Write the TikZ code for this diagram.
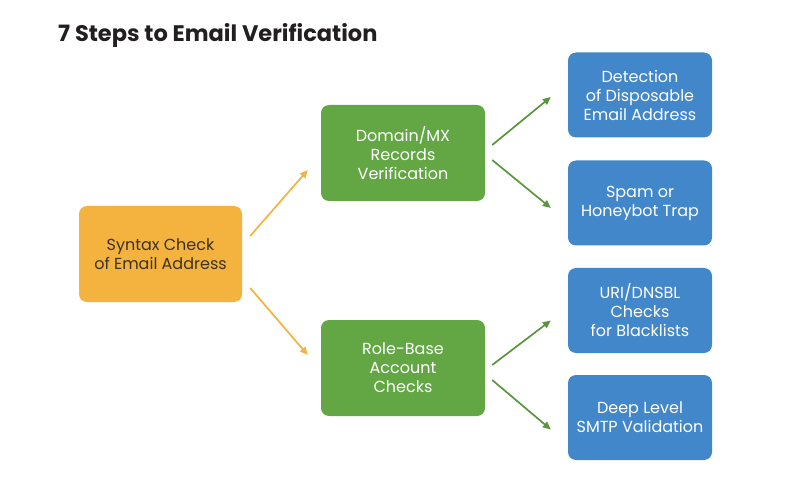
\documentclass[tikz,border=0pt]{standalone}
\usepackage{fontspec}
\setmainfont{Poppins}
\usepackage{tikz}
\usetikzlibrary{arrows.meta}

\definecolor{syntaxorange}{HTML}{F4B23F}
\definecolor{checkgreen}{HTML}{62A744}
\definecolor{stepblue}{HTML}{4287C9}
\definecolor{titleink}{HTML}{231F20}
\definecolor{darkink}{HTML}{3B3224}

\tikzset{
  box/.style={rounded corners=8pt, minimum width=#1, align=center,
    inner sep=0pt, font=\fontsize{16}{19}\selectfont},
  orangebox/.style={box=163pt, minimum height=96pt, fill=syntaxorange, text=darkink},
  greenbox/.style={box=164pt, minimum height=96pt, fill=checkgreen, text=white},
  bluebox/.style={box=144pt, minimum height=85pt, fill=stepblue, text=white},
  orangearrow/.style={draw=syntaxorange, line width=1.7pt, -{Triangle[length=8pt,width=7pt]}},
  greenarrow/.style={draw=checkgreen!90!black, line width=1.7pt, -{Triangle[length=8pt,width=7pt]}}
}

\begin{document}
\begin{tikzpicture}[x=1pt, y=-1pt]
				\useasboundingbox (0,0) rectangle (800,494);
				\node[anchor=base west, font=\bfseries\fontsize{22.5}{26}\selectfont, text=titleink, inner sep=0pt] (title) at (58,42) {7 Steps to Email Verification};
				\node[orangebox] (syntax) at (160.5,254) {Syntax Check\\of Email Address};
				\node[greenbox] (domain) at (403,153) {Domain/MX\\Records\\Verification};
				\node[greenbox] (role) at (403,368) {Role-Base\\Account\\Checks};
				\node[bluebox] (disposable) at (640,95) {Detection\\of Disposable\\Email Address};
				\node[bluebox] (spam) at (640,203) {Spam or\\Honeybot Trap};
				\node[bluebox] (blacklist) at (640,310.5) {URI/DNSBL\\Checks\\for Blacklists};
				\node[bluebox] (smtp) at (640,417.5) {Deep Level\\SMTP Validation};
				\draw[orangearrow] ([xshift=8pt,yshift=18pt]syntax.east) -- ([xshift=-13pt,yshift=-17pt]domain.west);
				\draw[orangearrow] ([xshift=8pt,yshift=-34pt]syntax.east) -- ([xshift=-13pt,yshift=13pt]role.west);
				\draw[greenarrow] ([xshift=7pt,yshift=8pt]domain.east) -- ([xshift=-17pt,yshift=-2pt]disposable.west);
				\draw[greenarrow] ([xshift=7pt,yshift=-7pt]domain.east) -- ([xshift=-17pt,yshift=-5pt]spam.west);
				\draw[greenarrow] ([xshift=7pt,yshift=3pt]role.east) -- ([xshift=-17pt,yshift=-10pt]blacklist.west);
				\draw[greenarrow] ([xshift=7pt,yshift=-12pt]role.east) -- ([xshift=-17pt,yshift=-12pt]smtp.west);
\end{tikzpicture}
\end{document}
